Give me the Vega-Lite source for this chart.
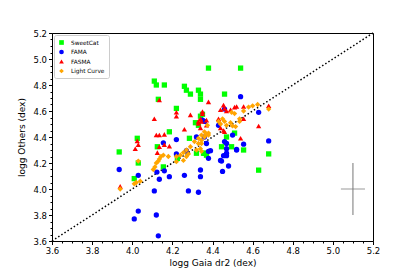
{
  "$schema": "https://vega.github.io/schema/vega-lite/v6.json",
  "width": 321,
  "height": 208,
  "autosize": {"type": "none"},
  "padding": {"left": 52, "top": 33, "right": 42, "bottom": 36},
  "background": "white",
  "config": {
    "view": {"stroke": "black", "strokeWidth": 1},
    "font": "DejaVu Sans",
    "axis": {"grid": false, "domainColor": "black", "tickColor": "black", "labelColor": "black", "titleColor": "black", "titleFontWeight": "normal", "labelFont": "DejaVu Sans", "titleFont": "DejaVu Sans", "labelFontSize": 8.5, "titleFontSize": 9, "tickSize": 3.5, "labelPadding": 2}
  },
  "datasets": {
    "pts": [
      {"src":"SweetCat","gaia":4.38,"oth":4.93},{"src":"SweetCat","gaia":4.54,"oth":4.93},{"src":"SweetCat","gaia":4.11,"oth":4.83},{"src":"SweetCat","gaia":4.12,"oth":4.80},{"src":"SweetCat","gaia":4.16,"oth":4.80},{"src":"SweetCat","gaia":4.26,"oth":4.79},{"src":"SweetCat","gaia":4.27,"oth":4.76},{"src":"SweetCat","gaia":4.29,"oth":4.73},{"src":"SweetCat","gaia":4.33,"oth":4.76},{"src":"SweetCat","gaia":4.34,"oth":4.73},{"src":"SweetCat","gaia":4.34,"oth":4.69},{"src":"SweetCat","gaia":4.46,"oth":4.73},{"src":"SweetCat","gaia":4.13,"oth":4.69},{"src":"SweetCat","gaia":4.22,"oth":4.62},{"src":"SweetCat","gaia":4.35,"oth":4.575},{"src":"SweetCat","gaia":4.34,"oth":4.56},{"src":"SweetCat","gaia":4.33,"oth":4.49},{"src":"SweetCat","gaia":4.315,"oth":4.51},{"src":"SweetCat","gaia":4.185,"oth":4.44},{"src":"SweetCat","gaia":4.025,"oth":4.39},{"src":"SweetCat","gaia":3.935,"oth":4.285},{"src":"SweetCat","gaia":4.03,"oth":4.20},{"src":"SweetCat","gaia":4.01,"oth":4.08},{"src":"SweetCat","gaia":4.125,"oth":4.325},{"src":"SweetCat","gaia":4.155,"oth":4.17},{"src":"SweetCat","gaia":4.285,"oth":4.39},{"src":"SweetCat","gaia":4.32,"oth":4.275},{"src":"SweetCat","gaia":4.355,"oth":4.275},{"src":"SweetCat","gaia":4.225,"oth":4.235},{"src":"SweetCat","gaia":4.37,"oth":4.26},{"src":"SweetCat","gaia":4.51,"oth":4.43},{"src":"SweetCat","gaia":4.47,"oth":4.40},{"src":"SweetCat","gaia":4.68,"oth":4.27},{"src":"SweetCat","gaia":4.63,"oth":4.145},{"src":"SweetCat","gaia":4.555,"oth":4.30},{"src":"SweetCat","gaia":4.495,"oth":4.325},{"src":"SweetCat","gaia":4.445,"oth":4.325},{"src":"SweetCat","gaia":4.36,"oth":4.275},
      {"src":"FAMA","gaia":4.54,"oth":4.71},{"src":"FAMA","gaia":4.63,"oth":4.59},{"src":"FAMA","gaia":4.46,"oth":4.615},{"src":"FAMA","gaia":4.35,"oth":4.53},{"src":"FAMA","gaia":4.36,"oth":4.52},{"src":"FAMA","gaia":4.43,"oth":4.49},{"src":"FAMA","gaia":4.50,"oth":4.415},{"src":"FAMA","gaia":4.555,"oth":4.345},{"src":"FAMA","gaia":4.68,"oth":4.37},{"src":"FAMA","gaia":4.52,"oth":4.305},{"src":"FAMA","gaia":4.47,"oth":4.35},{"src":"FAMA","gaia":4.47,"oth":4.31},{"src":"FAMA","gaia":4.46,"oth":4.365},{"src":"FAMA","gaia":4.455,"oth":4.256},{"src":"FAMA","gaia":4.47,"oth":4.256},{"src":"FAMA","gaia":4.445,"oth":4.215},{"src":"FAMA","gaia":4.48,"oth":4.177},{"src":"FAMA","gaia":4.45,"oth":4.135},{"src":"FAMA","gaia":4.38,"oth":4.236},{"src":"FAMA","gaia":4.38,"oth":4.29},{"src":"FAMA","gaia":4.39,"oth":4.295},{"src":"FAMA","gaia":4.37,"oth":4.35},{"src":"FAMA","gaia":4.36,"oth":4.40},{"src":"FAMA","gaia":4.32,"oth":4.40},{"src":"FAMA","gaia":4.34,"oth":4.146},{"src":"FAMA","gaia":4.34,"oth":4.095},{"src":"FAMA","gaia":4.33,"oth":3.975},{"src":"FAMA","gaia":4.28,"oth":3.985},{"src":"FAMA","gaia":4.26,"oth":4.105},{"src":"FAMA","gaia":4.185,"oth":4.095},{"src":"FAMA","gaia":4.135,"oth":4.075},{"src":"FAMA","gaia":4.123,"oth":4.13},{"src":"FAMA","gaia":4.16,"oth":4.14},{"src":"FAMA","gaia":4.22,"oth":4.38},{"src":"FAMA","gaia":4.22,"oth":4.27},{"src":"FAMA","gaia":4.155,"oth":4.355},{"src":"FAMA","gaia":4.27,"oth":4.295},{"src":"FAMA","gaia":4.44,"oth":4.22},{"src":"FAMA","gaia":4.03,"oth":4.105},{"src":"FAMA","gaia":3.935,"oth":4.15},{"src":"FAMA","gaia":4.11,"oth":3.985},{"src":"FAMA","gaia":4.03,"oth":3.83},{"src":"FAMA","gaia":4.01,"oth":3.77},{"src":"FAMA","gaia":4.12,"oth":3.80},{"src":"FAMA","gaia":4.13,"oth":3.64},{"src":"FAMA","gaia":4.52,"oth":4.30},{"src":"FAMA","gaia":4.47,"oth":4.275},
      {"src":"FASMA","gaia":4.38,"oth":4.67},{"src":"FASMA","gaia":4.135,"oth":4.685},{"src":"FASMA","gaia":4.11,"oth":4.54},{"src":"FASMA","gaia":4.22,"oth":4.59},{"src":"FASMA","gaia":4.22,"oth":4.56},{"src":"FASMA","gaia":4.29,"oth":4.57},{"src":"FASMA","gaia":4.35,"oth":4.58},{"src":"FASMA","gaia":4.34,"oth":4.54},{"src":"FASMA","gaia":4.33,"oth":4.52},{"src":"FASMA","gaia":4.345,"oth":4.52},{"src":"FASMA","gaia":4.37,"oth":4.53},{"src":"FASMA","gaia":4.37,"oth":4.49},{"src":"FASMA","gaia":4.43,"oth":4.54},{"src":"FASMA","gaia":4.26,"oth":4.46},{"src":"FASMA","gaia":4.34,"oth":4.47},{"src":"FASMA","gaia":4.12,"oth":4.415},{"src":"FASMA","gaia":4.135,"oth":4.415},{"src":"FASMA","gaia":4.16,"oth":4.42},{"src":"FASMA","gaia":4.025,"oth":4.37},{"src":"FASMA","gaia":4.03,"oth":4.34},{"src":"FASMA","gaia":4.015,"oth":4.31},{"src":"FASMA","gaia":3.94,"oth":4.02},{"src":"FASMA","gaia":4.185,"oth":4.33},{"src":"FASMA","gaia":4.135,"oth":4.325},{"src":"FASMA","gaia":4.125,"oth":4.28},{"src":"FASMA","gaia":4.16,"oth":4.34},{"src":"FASMA","gaia":4.455,"oth":4.645},{"src":"FASMA","gaia":4.46,"oth":4.62},{"src":"FASMA","gaia":4.52,"oth":4.635},{"src":"FASMA","gaia":4.555,"oth":4.635},{"src":"FASMA","gaia":4.68,"oth":4.64},{"src":"FASMA","gaia":4.44,"oth":4.61},{"src":"FASMA","gaia":4.47,"oth":4.60},{"src":"FASMA","gaia":4.49,"oth":4.61},{"src":"FASMA","gaia":4.51,"oth":4.63},{"src":"FASMA","gaia":4.555,"oth":4.54},{"src":"FASMA","gaia":4.44,"oth":4.47},{"src":"FASMA","gaia":4.455,"oth":4.45},{"src":"FASMA","gaia":4.46,"oth":4.44},{"src":"FASMA","gaia":4.54,"oth":4.39},{"src":"FASMA","gaia":4.63,"oth":4.485},{"src":"FASMA","gaia":4.35,"oth":4.595},{"src":"FASMA","gaia":4.33,"oth":4.505},
      {"src":"Light Curve","gaia":3.94,"oth":4.00},{"src":"Light Curve","gaia":4.02,"oth":4.05},{"src":"Light Curve","gaia":4.01,"oth":4.04},{"src":"Light Curve","gaia":4.04,"oth":4.06},{"src":"Light Curve","gaia":4.03,"oth":4.215},{"src":"Light Curve","gaia":4.105,"oth":4.15},{"src":"Light Curve","gaia":4.113,"oth":4.17},{"src":"Light Curve","gaia":4.12,"oth":4.20},{"src":"Light Curve","gaia":4.13,"oth":4.215},{"src":"Light Curve","gaia":4.135,"oth":4.23},{"src":"Light Curve","gaia":4.143,"oth":4.25},{"src":"Light Curve","gaia":4.155,"oth":4.26},{"src":"Light Curve","gaia":4.18,"oth":4.25},{"src":"Light Curve","gaia":4.22,"oth":4.21},{"src":"Light Curve","gaia":4.22,"oth":4.25},{"src":"Light Curve","gaia":4.24,"oth":4.26},{"src":"Light Curve","gaia":4.255,"oth":4.22},{"src":"Light Curve","gaia":4.255,"oth":4.28},{"src":"Light Curve","gaia":4.27,"oth":4.25},{"src":"Light Curve","gaia":4.27,"oth":4.30},{"src":"Light Curve","gaia":4.28,"oth":4.27},{"src":"Light Curve","gaia":4.29,"oth":4.325},{"src":"Light Curve","gaia":4.31,"oth":4.365},{"src":"Light Curve","gaia":4.33,"oth":4.39},{"src":"Light Curve","gaia":4.345,"oth":4.415},{"src":"Light Curve","gaia":4.36,"oth":4.44},{"src":"Light Curve","gaia":4.37,"oth":4.42},{"src":"Light Curve","gaia":4.375,"oth":4.49},{"src":"Light Curve","gaia":4.38,"oth":4.415},{"src":"Light Curve","gaia":4.34,"oth":4.31},{"src":"Light Curve","gaia":4.345,"oth":4.35},{"src":"Light Curve","gaia":4.33,"oth":4.35},{"src":"Light Curve","gaia":4.345,"oth":4.375},{"src":"Light Curve","gaia":4.36,"oth":4.40},{"src":"Light Curve","gaia":4.38,"oth":4.43},{"src":"Light Curve","gaia":4.32,"oth":4.30},{"src":"Light Curve","gaia":4.345,"oth":4.29},{"src":"Light Curve","gaia":4.45,"oth":4.54},{"src":"Light Curve","gaia":4.46,"oth":4.52},{"src":"Light Curve","gaia":4.47,"oth":4.49},{"src":"Light Curve","gaia":4.49,"oth":4.51},{"src":"Light Curve","gaia":4.50,"oth":4.485},{"src":"Light Curve","gaia":4.515,"oth":4.48},{"src":"Light Curve","gaia":4.495,"oth":4.59},{"src":"Light Curve","gaia":4.51,"oth":4.58},{"src":"Light Curve","gaia":4.535,"oth":4.54},{"src":"Light Curve","gaia":4.535,"oth":4.52},{"src":"Light Curve","gaia":4.555,"oth":4.60},{"src":"Light Curve","gaia":4.58,"oth":4.63},{"src":"Light Curve","gaia":4.60,"oth":4.64},{"src":"Light Curve","gaia":4.625,"oth":4.65},{"src":"Light Curve","gaia":4.68,"oth":4.615},{"src":"Light Curve","gaia":4.43,"oth":4.52},{"src":"Light Curve","gaia":4.44,"oth":4.50}
    ],
    "diag": [{"x": 3.6, "y": 3.6, "x2": 5.2, "y2": 5.2}],
    "errx": [{"x": 5.04, "x2": 5.16, "y": 4.0}],
    "erry": [{"x": 5.1, "y": 3.8, "y2": 4.2}],
    "minor": [{"m": 3.6}]
  },
  "layer": [
    {
      "data": {"name": "diag"},
      "mark": {"type": "rule", "color": "black", "strokeWidth": 1.5, "strokeDash": [1.5, 2.2]},
      "encoding": {
        "x": {"field": "x", "type": "quantitative", "scale": {"domain": [3.6, 5.2], "nice": false, "zero": false}, "axis": {"orient": "bottom", "title": "logg Gaia dr2 (dex)", "values": [3.6,3.8,4.0,4.2,4.4,4.6,4.8,5.0,5.2], "format": ".1f", "labelOverlap": false, "labelFlush": false, "titlePadding": 3}},
        "y": {"field": "y", "type": "quantitative", "scale": {"domain": [3.6, 5.2], "nice": false, "zero": false}, "axis": {"orient": "left", "title": "logg Others (dex)", "values": [3.6,3.8,4.0,4.2,4.4,4.6,4.8,5.0,5.2], "format": ".1f", "labelOverlap": false, "labelFlush": false, "titlePadding": 6}},
        "x2": {"field": "x2"},
        "y2": {"field": "y2"}
      }
    },
    {
      "data": {"name": "minor"},
      "mark": {"type": "point", "opacity": 0},
      "encoding": {
        "x": {"field": "m", "type": "quantitative", "axis": {"orient": "bottom", "values": [3.65,3.7,3.75,3.85,3.9,3.95,4.05,4.1,4.15,4.25,4.3,4.35,4.45,4.5,4.55,4.65,4.7,4.75,4.85,4.9,4.95,5.05,5.1,5.15], "labels": false, "tickSize": 2, "title": null, "domain": false}},
        "y": {"field": "m", "type": "quantitative", "axis": {"orient": "left", "values": [3.65,3.7,3.75,3.85,3.9,3.95,4.05,4.1,4.15,4.25,4.3,4.35,4.45,4.5,4.55,4.65,4.7,4.75,4.85,4.9,4.95,5.05,5.1,5.15], "labels": false, "tickSize": 2, "title": null, "domain": false}}
      }
    },
    {
      "data": {"name": "errx"},
      "mark": {"type": "rule", "color": "#bbbbbb", "strokeWidth": 1.5},
      "encoding": {"x": {"field": "x", "type": "quantitative", "axis": null}, "x2": {"field": "x2"}, "y": {"field": "y", "type": "quantitative", "axis": null}}
    },
    {
      "data": {"name": "erry"},
      "mark": {"type": "rule", "color": "#777777", "strokeWidth": 1},
      "encoding": {"x": {"field": "x", "type": "quantitative", "axis": null}, "y": {"field": "y", "type": "quantitative", "axis": null}, "y2": {"field": "y2"}}
    },
    {
      "data": {"name": "pts"},
      "mark": {"type": "point", "filled": true, "opacity": 1},
      "encoding": {
        "x": {"field": "gaia", "type": "quantitative", "axis": null},
        "y": {"field": "oth", "type": "quantitative", "axis": null},
        "color": {"field": "src", "type": "nominal", "scale": {"domain": ["SweetCat", "FAMA", "FASMA", "Light Curve"], "range": ["#00ff00", "#0000ff", "#ff0000", "#ffa500"]}, "legend": {"title": null, "orient": "none", "legendX": 2, "legendY": 2, "fillColor": "white", "strokeColor": "#cccccc", "padding": 4, "cornerRadius": 2, "labelFontSize": 5.8, "labelFont": "DejaVu Sans", "symbolSize": 22, "rowPadding": 2.5, "labelOffset": 6}},
        "shape": {"field": "src", "type": "nominal", "scale": {"domain": ["SweetCat", "FAMA", "FASMA", "Light Curve"], "range": ["square", "circle", "triangle-up", "diamond"]}},
        "size": {"value": 28}
      }
    }
  ],
  "resolve": {"axis": {"x": "independent", "y": "independent"}}
}
